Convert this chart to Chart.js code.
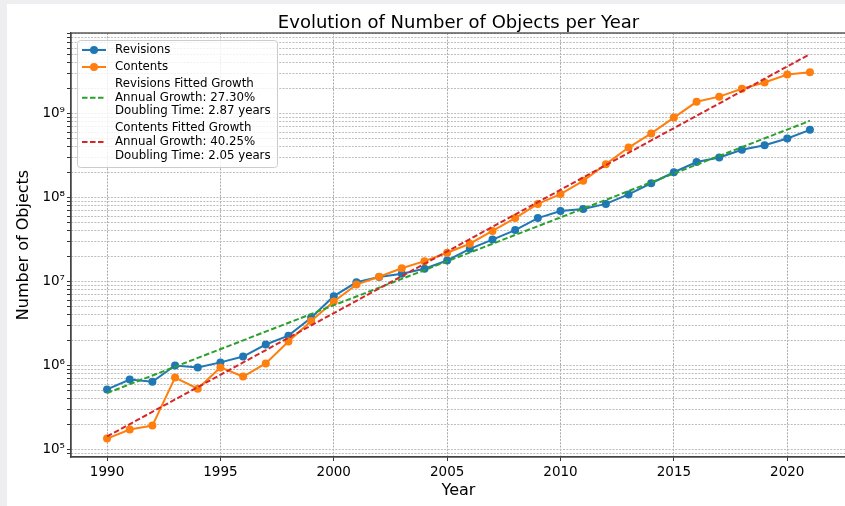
<!DOCTYPE html>
<html>
<head>
<meta charset="utf-8">
<script src="https://cdn.jsdelivr.net/npm/chart.js@4.4.0/dist/chart.umd.min.js"></script>
<style>
  html, body { margin: 0; padding: 0; background: #eeeef0; overflow: hidden; }
  #wrap { position: absolute; left: 7px; top: 4px; width: 838px; height: 502px; background: #fff; overflow: hidden; }
</style>
</head>
<body>
<div id="wrap"><canvas id="chart" width="850" height="502"></canvas></div>
<script>
// data
const years = [1990, 1991, 1992, 1993, 1994, 1995, 1996, 1997, 1998, 1999,
               2000, 2001, 2002, 2003, 2004, 2005, 2006, 2007, 2008, 2009,
               2010, 2011, 2012, 2013, 2014, 2015, 2016, 2017, 2018, 2019,
               2020, 2021];
const revisions = [5.2e5, 6.8e5, 6.4e5, 1.0e6, 9.5e5, 1.09e6, 1.28e6, 1.78e6, 2.27e6, 3.7e6,
                   6.7e6, 9.8e6, 1.13e7, 1.24e7, 1.42e7, 1.78e7, 2.45e7, 3.16e7, 4.1e7, 5.7e7,
                   6.9e7, 7.3e7, 8.4e7, 1.09e8, 1.48e8, 2.0e8, 2.65e8, 3.0e8, 3.7e8, 4.2e8,
                   5.05e8, 6.4e8];
const contents = [1.35e5, 1.73e5, 1.93e5, 7.2e5, 5.3e5, 9.5e5, 7.4e5, 1.06e6, 1.93e6, 3.4e6,
                  5.8e6, 9.2e6, 1.14e7, 1.44e7, 1.75e7, 2.2e7, 2.82e7, 4.0e7, 5.7e7, 8.4e7,
                  1.1e8, 1.58e8, 2.5e8, 3.94e8, 5.8e8, 8.96e8, 1.38e9, 1.59e9, 1.97e9, 2.34e9,
                  2.91e9, 3.1e9];
// fitted lines: end points only (straight on a log axis)
const fitYears = [1990, 2021];
const revisionsFit = [4.7e5, 8.2e8];
const contentsFit = [1.43e5, 5.1e9];

const xTicks = [1990, 1995, 2000, 2005, 2010, 2015, 2020];
const yDecades = [4, 5, 6, 7, 8, 9];

const titleText = "Evolution of Number of Objects per Year";
const xTitle = "Year";
const yTitle = "Number of Objects";
const revisionsLabel = ["Revisions"];
const contentsLabel = ["Contents"];
const revisionsFitLabel = ["Revisions Fitted Growth", "Annual Growth: 27.30%", "Doubling Time: 2.87 years"];
const contentsFitLabel = ["Contents Fitted Growth", "Annual Growth: 40.25%", "Doubling Time: 2.05 years"];

const FONT = '"DejaVu Sans", sans-serif';
Chart.defaults.font.family = FONT;
Chart.defaults.color = "#000";

const sup = { "0": "⁰", "1": "¹", "2": "²", "3": "³", "4": "⁴", "5": "⁵", "6": "⁶", "7": "⁷", "8": "⁸", "9": "⁹" };

function toPoints(xs, ys) {
  return xs.map((x, i) => ({ x: x, y: ys[i] }));
}

// titles, frame and the legend drawn by hand (matplotlib look)
const decor = {
  id: "decor",
  afterDraw(chart) {
    const { ctx, chartArea: a } = chart;
    ctx.save();

    ctx.strokeStyle = "#444";
    ctx.lineWidth = 1.3;
    ctx.strokeRect(a.left, a.top, a.right - a.left, a.bottom - a.top);

    // title centred over the visible part of the axes
    const cx = (a.left + 838 + 1) / 2;
    ctx.fillStyle = "#000";
    ctx.font = "18px " + FONT;
    ctx.textAlign = "center";
    ctx.textBaseline = "alphabetic";
    ctx.fillText(titleText, cx, 23.5);

    ctx.font = "16px " + FONT;
    ctx.textBaseline = "middle";
    ctx.fillText(xTitle, cx, 487);
    ctx.save();
    ctx.translate(17, (a.top + a.bottom) / 2);
    ctx.rotate(-Math.PI / 2);
    ctx.fillText(yTitle, 0, 0);
    ctx.restore();

    // legend
    const lx = 70, ly = 36, lw = 200, lh = 127;
    ctx.beginPath();
    ctx.roundRect(lx + 0.5, ly + 0.5, lw, lh, 3);
    ctx.fillStyle = "rgba(255,255,255,0.8)";
    ctx.fill();
    ctx.strokeStyle = "#cccccc";
    ctx.lineWidth = 1;
    ctx.stroke();

    const rowH = 13.7, entryGap = 17;
    let y = 46;
    ctx.font = "11.8px " + FONT;
    ctx.textAlign = "left";
    chart.data.datasets.forEach((ds) => {
      const lines = ds.legendLines;
      const mid = y + (lines.length - 1) * rowH / 2;
      ctx.strokeStyle = ds.borderColor;
      ctx.lineWidth = ds.borderWidth;
      ctx.setLineDash(ds.borderDash || []);
      ctx.beginPath();
      ctx.moveTo(75, mid);
      ctx.lineTo(99, mid);
      ctx.stroke();
      ctx.setLineDash([]);
      if (ds.pointRadius > 0) {
        ctx.beginPath();
        ctx.arc(87, mid, ds.pointRadius, 0, Math.PI * 2);
        ctx.fillStyle = ds.backgroundColor;
        ctx.fill();
      }
      ctx.fillStyle = "#000";
      lines.forEach((t, i) => ctx.fillText(t, 108, y + i * rowH));
      y += (lines.length - 1) * rowH + entryGap;
    });

    ctx.restore();
  }
};

const ctx = document.getElementById("chart").getContext("2d");
new Chart(ctx, {
  type: "line",
  data: {
    datasets: [
      {
        label: revisionsLabel.join(" "),
        legendLines: revisionsLabel,
        data: toPoints(years, revisions),
        borderColor: "#1f77b4",
        backgroundColor: "#1f77b4",
        borderWidth: 2,
        pointRadius: 4,
        pointBorderWidth: 0,
        order: 4
      },
      {
        label: contentsLabel.join(" "),
        legendLines: contentsLabel,
        data: toPoints(years, contents),
        borderColor: "#ff7f0e",
        backgroundColor: "#ff7f0e",
        borderWidth: 2,
        pointRadius: 4,
        pointBorderWidth: 0,
        order: 3
      },
      {
        label: revisionsFitLabel.join(" "),
        legendLines: revisionsFitLabel,
        data: toPoints(fitYears, revisionsFit),
        borderColor: "#2ca02c",
        backgroundColor: "#2ca02c",
        borderWidth: 2,
        borderDash: [5.5, 2.5],
        pointRadius: 0,
        order: 2
      },
      {
        label: contentsFitLabel.join(" "),
        legendLines: contentsFitLabel,
        data: toPoints(fitYears, contentsFit),
        borderColor: "#d62728",
        backgroundColor: "#d62728",
        borderWidth: 2,
        borderDash: [5.5, 2.5],
        pointRadius: 0,
        order: 1
      }
    ]
  },
  options: {
    responsive: false,
    animation: false,
    devicePixelRatio: 1,
    layout: { padding: { top: 29, left: 0, right: 0, bottom: 0 } },
    plugins: {
      legend: { display: false },
      title: { display: false },
      tooltip: { enabled: false }
    },
    scales: {
      x: {
        type: "linear",
        min: 1988.41,
        max: 2022.9,
        afterBuildTicks: (scale) => {
          scale.ticks = xTicks.map((v) => ({ value: v }));
        },
        afterFit: (scale) => { scale.height = 49; },
        ticks: {
          autoSkip: false,
          maxRotation: 0,
          padding: 3,
          font: { size: 13.5 },
          color: "#000",
          callback: (v) => String(v)
        },
        grid: {
          color: "#aaaaaa",
          lineWidth: 1,
          tickLength: 4,
          tickColor: "#333",
          tickBorderDash: []
        },
        border: { display: true, color: "#444", width: 1.3, dash: [2, 1.3] }
      },
      y: {
        type: "logarithmic",
        min: 81500,
        max: 9.1e9,
        afterBuildTicks: (scale) => {
          const t = [];
          yDecades.forEach((k) => {
            for (let m = 1; m <= 9; m++) {
              const v = m * Math.pow(10, k);
              if (v >= scale.min && v <= scale.max) t.push({ value: v, major: m === 1 });
            }
          });
          scale.ticks = t;
        },
        afterFit: (scale) => { scale.width = 64; },
        ticks: {
          autoSkip: false,
          padding: 2,
          font: { size: 13.5 },
          color: "#000",
          callback: (v) => {
            const e = Math.log10(v);
            if (Math.abs(e - Math.round(e)) > 1e-9) return "";
            return "10" + String(Math.round(e)).split("").map((d) => sup[d]).join("");
          }
        },
        grid: {
          color: "#bdbdbd",
          lineWidth: 1,
          tickLength: 4,
          tickColor: "#333",
          tickBorderDash: []
        },
        border: { display: true, color: "#444", width: 1.3, dash: [2, 1.3] }
      }
    }
  },
  plugins: [decor]
});
</script>
</body>
</html>
